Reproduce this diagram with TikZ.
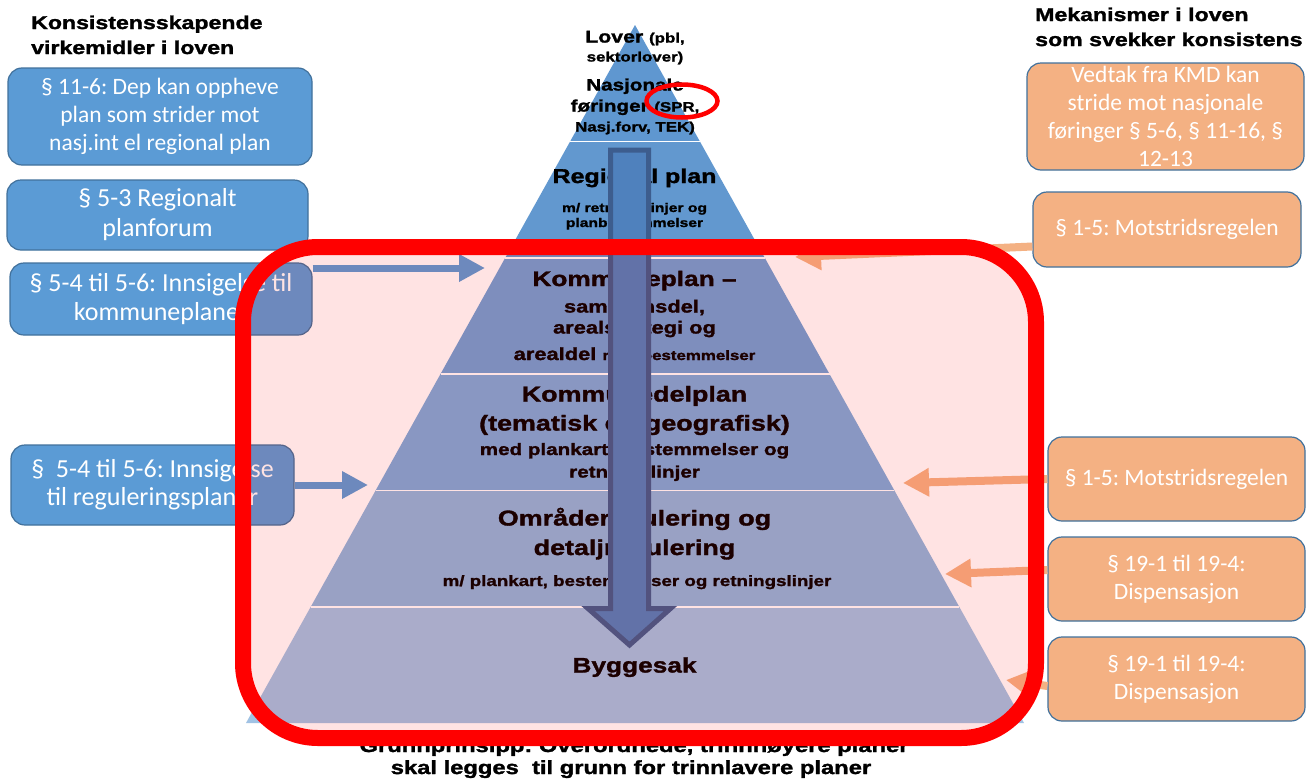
\documentclass[tikz,border=0pt]{standalone}
\usepackage{fontspec}
\setmainfont{Carlito}
\newfontfamily\hb{Liberation Sans Bold}[FakeStretch=1.25,FakeBold=1.6]
\usetikzlibrary{arrows.meta,shapes.geometric,calc}
\definecolor{blueb}{HTML}{5B9BD5}
\definecolor{boxline}{HTML}{41719C}
\definecolor{orangeb}{HTML}{F4B183}
\definecolor{LA}{HTML}{5F97D0}
\definecolor{LB}{HTML}{6298CF}
\definecolor{LC}{HTML}{6FA0D5}
\definecolor{LD}{HTML}{7BAADA}
\definecolor{LE}{HTML}{8DB5DD}
\definecolor{LF}{HTML}{A0C2E4}
\definecolor{arrf}{HTML}{4F81BD}
\definecolor{arrd}{HTML}{3D5D8E}
\newcommand\pz[1]{\hb\fontsize{#1}{#1}\selectfont}
\newcommand\cz[2]{\fontsize{#1}{#2}\selectfont}
\frenchspacing
\begin{document}
\begin{tikzpicture}[x=1pt,y=-1pt,
  bbox/.style={draw=boxline,line width=1.2pt,fill=blueb,rounded corners=14pt,text=white,align=center,inner sep=0pt},
  obox/.style={draw=boxline,line width=1.2pt,fill=orangeb,rounded corners=14pt,text=white,align=center,inner sep=0pt,font=\cz{23.5}{28}},
  sepline/.style={draw=white,line width=1.6pt},
  ptxt/.style={anchor=base,inner sep=0pt,text=black},
  htxt/.style={anchor=base west,inner sep=0pt,text=black},
  barrow/.style={draw=blueb,line width=7pt,-{Triangle[width=26pt,length=26pt]}},
  oarrow/.style={draw=orangeb,line width=8pt,-{Triangle[width=27pt,length=26pt]}}]
\useasboundingbox (0,0) rectangle (1308,779);
\fill[white] (0,0) rectangle (1308,779);
% pyramid layers
\fill[LA] (635,25) -- (699.8,141.3) -- (570.2,141.3) -- cycle;
\fill[LB] (570.2,141.3) -- (699.8,141.3) -- (764.7,257.7) -- (505.3,257.7) -- cycle;
\fill[LC] (505.3,257.7) -- (764.7,257.7) -- (829.5,374) -- (440.5,374) -- cycle;
\fill[LD] (440.5,374) -- (829.5,374) -- (894.3,490.3) -- (375.7,490.3) -- cycle;
\fill[LE] (375.7,490.3) -- (894.3,490.3) -- (959.2,606.7) -- (310.8,606.7) -- cycle;
\fill[LF] (310.8,606.7) -- (959.2,606.7) -- (1024,723) -- (246,723) -- cycle;
\draw[sepline] (570.2,141.3) -- (699.8,141.3);
\draw[sepline] (505.3,257.7) -- (764.7,257.7);
\draw[sepline] (440.5,374) -- (829.5,374);
\draw[sepline] (375.7,490.3) -- (894.3,490.3);
\draw[sepline] (310.8,606.7) -- (959.2,606.7);
% pyramid texts
\node[ptxt] (t1a) at (635,42.5) {\pz{17}Lover \pz{13.5}(pbl,};
\node[ptxt] (t1b) at (635,61.5) {\pz{13.5}sektorlover)};
\node[ptxt] (t1c) at (635,90.5) {\pz{16.5}Nasjonale};
\node[ptxt] (t1d) at (635,111.5) {\pz{16.5}føringer \pz{13.5}(SPR,};
\node[ptxt] (t1e) at (635,131.5) {\pz{13.5}Nasj.forv, TEK)};
\node[ptxt] (t2a) at (634.5,183) {\pz{20}Regional plan};
\node[ptxt] (t2b) at (634.5,212) {\pz{12.5}m/ retningslinjer og};
\node[ptxt] (t2c) at (634.5,227) {\pz{12.5}planbestemmelser};
\node[ptxt] (t3a) at (634.5,286) {\pz{21}Kommuneplan –};
\node[ptxt] (t3b) at (634.5,312.5) {\pz{17.5}samfunnsdel,};
\node[ptxt] (t3c) at (634.5,333.5) {\pz{17.5}arealstrategi og};
\node[ptxt] (t3d) at (634.5,360) {\pz{17.5}arealdel \pz{13.5}med bestemmelser};
\node[ptxt] (t4a) at (634.5,401.5) {\pz{21.5}Kommunedelplan};
\node[ptxt] (t4b) at (634.5,430.5) {\pz{21.5}(tematisk og geografisk)};
\node[ptxt] (t4c) at (634.5,455) {\pz{16.5}med plankart, bestemmelser og};
\node[ptxt] (t4d) at (634.5,477.5) {\pz{16.5}retningslinjer};
\node[ptxt] (t5a) at (634.5,525.5) {\pz{21.5}Områderegulering og};
\node[ptxt] (t5b) at (634.5,555) {\pz{21.5}detaljregulering};
\node[ptxt] (t5c) at (637,586) {\pz{15}m/ plankart, bestemmelser og retningslinjer};
\node[ptxt] (t6) at (634.5,672.5) {\pz{21}Byggesak};
% red ring around (SPR,
\node[draw=red,line width=4.5pt,ellipse,minimum width=71pt,minimum height=33pt,inner sep=0pt] (ring) at (682,101) {};
% central arrow
\draw[fill=arrf,draw=arrd,line width=5pt,line join=miter]
  (610.5,150) -- (648.5,150) -- (648.5,608.5) -- (670.5,608.5) -- (629.5,645) -- (588,608.5) -- (610.5,608.5) -- cycle;
% headings
\node[htxt] (hL1) at (31,29) {\pz{18.5}Konsistensskapende};
\node[htxt] (hL2) at (31,54) {\pz{18.5}virkemidler i loven};
\node[htxt] (hR1) at (1035,21) {\pz{18.5}Mekanismer i loven};
\node[htxt] (hR2) at (1035,46) {\pz{18.5}som svekker konsistens};
% left boxes
\node[bbox,minimum width=304pt,minimum height=97pt,font=\cz{23.5}{28}] (b1) at (160,116.5) {§ 11-6: Dep kan oppheve\\plan som strider mot\\nasj.int el regional plan};
\node[bbox,minimum width=301pt,minimum height=70pt,font=\cz{26}{30}] (b2) at (157.5,215) {§ 5-3 Regionalt\\planforum};
\node[bbox,minimum width=302pt,minimum height=72pt,font=\cz{26}{29}] (b3) at (161,299) {§ 5-4 til 5-6: Innsigelse til\\kommuneplaner};
\node[bbox,minimum width=283pt,minimum height=80pt,font=\cz{26}{28}] (b4) at (152.5,485) {§\ \ 5-4 til 5-6: Innsigelse\\til reguleringsplaner};
% right boxes
\node[obox,minimum width=277pt,minimum height=107pt] (r1) at (1165.5,116.5) {Vedtak fra KMD kan\\stride mot nasjonale\\føringer § 5-6, § 11-16, §\\12-13};
\node[obox,minimum width=268pt,minimum height=75pt] (r2) at (1167,229.5) {§ 1-5: Motstridsregelen};
\node[obox,minimum width=257pt,minimum height=84pt] (r3) at (1176.5,479) {§ 1-5: Motstridsregelen};
\node[obox,minimum width=257pt,minimum height=84pt] (r4) at (1176.5,579) {§ 19-1 til 19-4:\\Dispensasjon};
\node[obox,minimum width=257pt,minimum height=84pt] (r5) at (1176.5,679) {§ 19-1 til 19-4:\\Dispensasjon};
% connector end points
\coordinate (la1) at (485,268);
\coordinate (la2) at (368,485);
\coordinate (ra2) at (795,257);
\coordinate (ra3) at (903,483);
\coordinate (ra4) at (945,574);
\coordinate (ra5) at (1006,680);
\draw[barrow] (b3.east |- la1) -- (la1);
\draw[barrow] (b4.east) -- (la2);
\draw[oarrow] ($(r2.west)+(0,17)$) -- (ra2);
\draw[oarrow] (r3.west) -- (ra3);
\draw[oarrow] ($(r4.west)+(0,-9)$) -- (ra4);
\draw[oarrow] ($(r5.west)+(0,7)$) -- (ra5);
% bottom principle text
\node[ptxt] (g1) at (634,752) {\pz{19}Grunnprinsipp: Overordnede, trinnhøyere planer};
\node[ptxt] (g2) at (631,774) {\pz{19}skal legges\ \ til grunn for trinnlavere planer};
% red focus frame with translucent fill
\node[draw=red,line width=16pt,fill=red,fill opacity=0.11,rounded corners=75pt,minimum width=793pt,minimum height=491pt,inner sep=0pt] (focus) at (639.5,492.5) {};
\end{tikzpicture}
\end{document}
